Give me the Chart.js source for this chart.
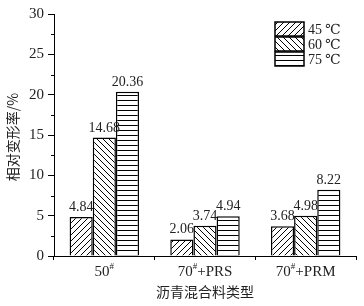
<!DOCTYPE html>
<html lang="zh">
<head>
<meta charset="UTF-8">
<title>相对变形率</title>
<script src="https://cdn.jsdelivr.net/npm/chart.js"></script>
<style>
  body { margin: 0; background: #fff; }
  canvas { display: block; }
</style>
</head>
<body>
<canvas id="chart" width="364" height="306"></canvas>
<script>
const categories = ['50#', '70#+PRS', '70#+PRM'];
const seriesNames = ['45 ℃', '60 ℃', '75 ℃'];
const t45 = [4.84, 2.06, 3.68];
const t60 = [14.68, 3.74, 4.98];
const t75 = [20.36, 4.94, 8.22];
const yTicks = [0, 5, 10, 15, 20, 25, 30];

const serif = '"Liberation Serif", "DejaVu Serif", serif';
const cjk = '"Noto Sans CJK SC", sans-serif';

// hatch fills
function hatch(kind) {
  const c = document.createElement('canvas');
  const s = kind === 'h' ? 5 : 6;
  c.width = s; c.height = s;
  const g = c.getContext('2d');
  g.fillStyle = '#fff';
  g.fillRect(0, 0, s, s);
  g.strokeStyle = '#000';
  g.lineWidth = 1;
  g.beginPath();
  if (kind === 'h') {
    g.moveTo(0, 0.5); g.lineTo(s, 0.5);
  } else if (kind === 'f') {
    g.moveTo(-1, s + 1); g.lineTo(s + 1, -1);
    g.moveTo(-1, 1); g.lineTo(1, -1);
    g.moveTo(s - 1, s + 1); g.lineTo(s + 1, s - 1);
  } else {
    g.moveTo(-1, -1); g.lineTo(s + 1, s + 1);
    g.moveTo(s - 1, -1); g.lineTo(s + 1, 1);
    g.moveTo(-1, s - 1); g.lineTo(1, s + 1);
  }
  g.stroke();
  return g.createPattern(c, 'repeat');
}
const fills = [hatch('f'), hatch('b'), hatch('h')];

const decor = {
  id: 'decor',
  afterDraw(chart) {
    const ctx = chart.ctx;
    const x = chart.scales.x, y = chart.scales.y;
    ctx.save();
    ctx.fillStyle = '#222';
    ctx.strokeStyle = '#000';

    // minor y ticks
    ctx.lineWidth = 1;
    ctx.beginPath();
    for (let i = 0; i < yTicks.length - 1; i++) {
      const py = Math.round(y.getPixelForValue((yTicks[i] + yTicks[i + 1]) / 2)) + 0.5;
      ctx.moveTo(x.left - 3, py); ctx.lineTo(x.left, py);
    }
    ctx.stroke();

    // value labels
    ctx.font = '14px ' + serif;
    ctx.textAlign = 'center';
    ctx.textBaseline = 'alphabetic';
    chart.data.datasets.forEach((ds, di) => {
      chart.getDatasetMeta(di).data.forEach((bar, i) => {
        ctx.fillText(ds.data[i].toFixed(2), bar.x, bar.y - 6);
      });
    });

    // category labels with superscript #
    categories.forEach((cat, i) => {
      const parts = cat.split('#');
      const cx = x.getPixelForValue(i);
      ctx.font = '15px ' + serif;
      const w1 = ctx.measureText(parts[0]).width;
      const w3 = ctx.measureText(parts[1]).width;
      ctx.font = '9px ' + serif;
      const w2 = ctx.measureText('#').width;
      let px = cx - (w1 + w2 + w3) / 2;
      ctx.textAlign = 'left';
      ctx.font = '15px ' + serif;
      ctx.fillText(parts[0], px, 276);
      ctx.font = '9px ' + serif;
      ctx.fillText('#', px + w1, 269);
      ctx.font = '15px ' + serif;
      ctx.fillText(parts[1], px + w1 + w2, 276);
    });

    // axis titles
    ctx.font = '14px ' + cjk;
    ctx.textAlign = 'center';
    ctx.textBaseline = 'middle';
    ctx.fillText('沥青混合料类型', (x.left + x.right) / 2, 292);
    ctx.save();
    ctx.translate(13, 137);
    ctx.rotate(-Math.PI / 2);
    ctx.fillText('相对变形率/%', 0, 0);
    ctx.restore();

    // legend
    ctx.textAlign = 'left';
    ctx.font = '14px ' + serif;
    seriesNames.forEach((name, i) => {
      const bx = 275, by = 22 + i * 15;
      ctx.fillStyle = fills[i];
      ctx.fillRect(bx, by, 29, 14);
      ctx.lineWidth = 1.5;
      ctx.strokeRect(bx, by, 29, 14);
      ctx.fillStyle = '#222';
      const [num, unit] = name.split(' ');
      ctx.fillText(num, 308, by + 8);
      ctx.fillText(unit, 325, by + 8);
    });
    ctx.restore();
  }
};

new Chart(document.getElementById('chart'), {
  type: 'bar',
  data: {
    labels: categories,
    datasets: [t45, t60, t75].map((d, i) => ({
      label: seriesNames[i],
      data: d,
      backgroundColor: fills[i],
      borderColor: '#000',
      borderWidth: 1.5,
      categoryPercentage: 0.69,
      barPercentage: 1
    }))
  },
  options: {
    responsive: false,
    animation: false,
    layout: { padding: { top: 14, right: 8, left: 0, bottom: 0 } },
    plugins: { legend: { display: false }, tooltip: { enabled: false } },
    scales: {
      x: {
        afterFit: s => { s.height = 50; },
        grid: { drawOnChartArea: false, tickLength: 4, color: '#000', offset: true },
        border: { color: '#000', width: 1 },
        ticks: { display: false }
      },
      y: {
        min: 0, max: 30,
        afterFit: s => { s.width = 54; },
        afterBuildTicks: s => { s.ticks = yTicks.map(v => ({ value: v })); },
        grid: { drawOnChartArea: false, tickLength: 6, color: '#000' },
        border: { color: '#000', width: 1 },
        ticks: { color: '#222', padding: 4, font: { family: serif, size: 15 } }
      }
    }
  },
  plugins: [decor]
});
</script>
</body>
</html>
